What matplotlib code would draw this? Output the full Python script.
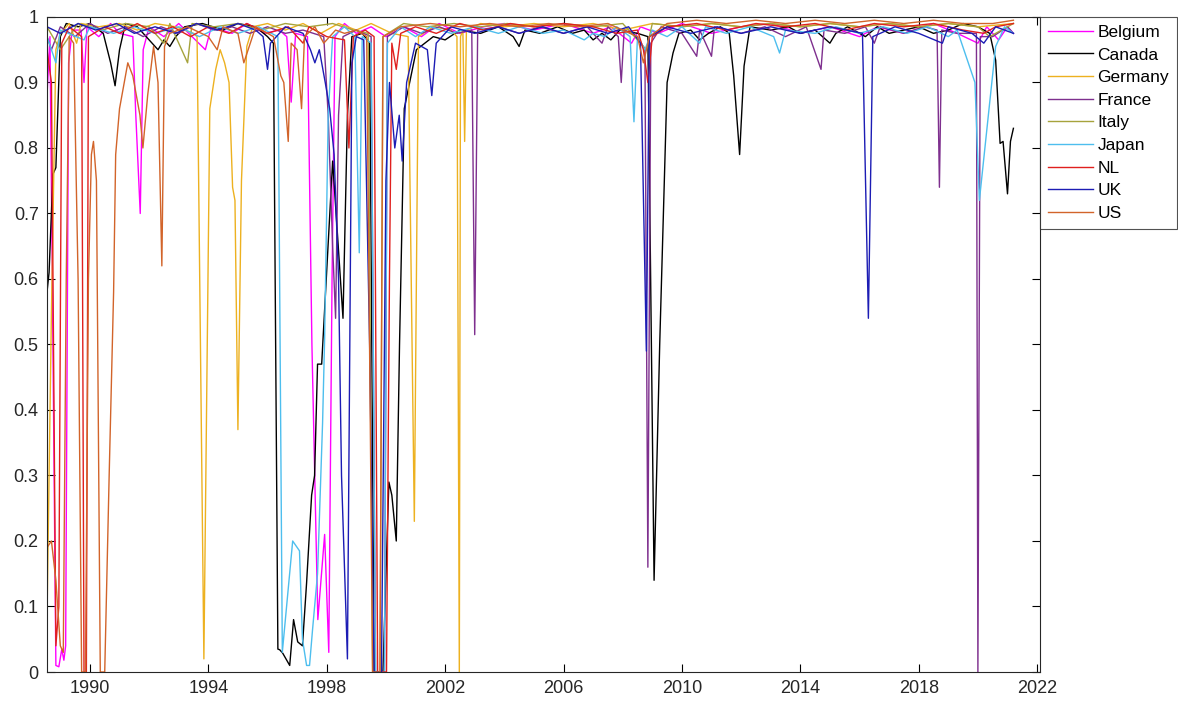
import numpy as np
import matplotlib.pyplot as plt
from matplotlib.ticker import FuncFormatter

plt.rcParams['font.family'] = ['Liberation Sans', 'DejaVu Sans']

countries = ['Belgium', 'Canada', 'Germany', 'France', 'Italy', 'Japan', 'NL', 'UK', 'US']
colors = ['#FF00FF', '#000000', '#EDB120', '#7E2F8E', '#A6A33C', '#4DBEEE', '#E0201E', '#1C1CB4', '#D2642A']

# (decimal year, value) breakpoints for each country
belgium_t = [1988.55, 1988.65, 1988.75, 1988.85, 1988.95, 1989.05, 1989.12, 1989.18, 1989.28, 1989.4,
             1989.7, 1989.8, 1989.9, 1990.3, 1990.7, 1991.0, 1991.45, 1991.55, 1991.7, 1991.8,
             1992.0, 1992.5, 1993.0, 1993.9, 1994.1, 1994.8, 1995.3, 1995.9, 1996.4, 1996.65,
             1996.8, 1996.95, 1997.35, 1997.5, 1997.7, 1997.93, 1998.07, 1998.18, 1998.28, 1998.6,
             1999.0, 1999.5, 2000.0, 2000.6, 2001.2, 2001.8, 2002.5, 2003.3, 2004.0, 2005.0,
             2006.0, 2007.0, 2007.6, 2008.3, 2008.6, 2009.2, 2010.0, 2011.0, 2012.0, 2013.0,
             2014.0, 2015.0, 2016.0, 2016.6, 2017.5, 2018.5, 2019.3, 2020.0, 2020.3, 2020.7,
             2021.0, 2021.2]
belgium_v = [0.88, 0.97, 0.5, 0.01, 0.008, 0.035, 0.018, 0.04, 0.93, 0.98,
             0.98, 0.90, 0.985, 0.97, 0.99, 0.975, 0.97, 0.85, 0.70, 0.95,
             0.985, 0.97, 0.99, 0.95, 0.985, 0.975, 0.99, 0.975, 0.98, 0.97,
             0.87, 0.975, 0.97, 0.5, 0.08, 0.21, 0.03, 0.6, 0.97, 0.99,
             0.975, 0.985, 0.97, 0.985, 0.97, 0.99, 0.975, 0.985, 0.99, 0.98,
             0.99, 0.975, 0.985, 0.96, 0.985, 0.975, 0.99, 0.975, 0.985, 0.99,
             0.975, 0.985, 0.97, 0.985, 0.975, 0.99, 0.975, 0.96, 0.985, 0.965,
             0.985, 0.975]

canada_t = [1988.55, 1988.62, 1988.75, 1988.85, 1989.0, 1989.2, 1989.6, 1990.0, 1990.45, 1990.7,
            1990.85, 1991.0, 1991.2, 1991.6, 1991.9, 1992.3, 1992.5, 1992.7, 1992.9, 1993.2,
            1993.8, 1994.5, 1995.0, 1995.6, 1996.0, 1996.2, 1996.35, 1996.41, 1996.51, 1996.75,
            1996.88, 1997.02, 1997.18, 1997.32, 1997.49, 1997.59, 1997.69, 1997.83, 1998.2, 1998.55,
            1998.7, 1998.85, 1999.2, 1999.45, 1999.6, 1999.9, 2000.1, 2000.2, 2000.35, 2000.46,
            2000.62, 2001.03, 2001.6, 2002.0, 2002.5, 2003.2, 2003.8, 2004.3, 2004.5, 2004.7,
            2005.2, 2005.8, 2006.3, 2006.7, 2007.0, 2007.3, 2007.6, 2007.9, 2008.5, 2008.85,
            2009.06, 2009.25, 2009.5, 2009.7, 2009.9, 2010.3, 2010.6, 2010.9, 2011.3, 2011.6,
            2011.75, 2011.95, 2012.1, 2012.3, 2013.0, 2013.6, 2014.0, 2014.5, 2015.0, 2015.2,
            2015.6, 2016.2, 2016.6, 2017.0, 2017.5, 2018.0, 2018.5, 2019.0, 2019.5, 2020.0,
            2020.4, 2020.6, 2020.75, 2020.85, 2021.0, 2021.1, 2021.2]
canada_v = [0.58, 0.61, 0.76, 0.77, 0.97, 0.99, 0.985, 0.99, 0.975, 0.93,
            0.895, 0.95, 0.99, 0.985, 0.97, 0.95, 0.965, 0.955, 0.97, 0.985,
            0.99, 0.98, 0.99, 0.985, 0.97, 0.96, 0.035, 0.034, 0.029, 0.01,
            0.08, 0.046, 0.04, 0.136, 0.27, 0.30, 0.47, 0.47, 0.78, 0.54,
            0.85, 0.97, 0.975, 0.96, 0.0, 0.0, 0.29, 0.27, 0.20, 0.5,
            0.86, 0.95, 0.97, 0.965, 0.98, 0.975, 0.985, 0.97, 0.955, 0.98,
            0.975, 0.985, 0.975, 0.98, 0.965, 0.975, 0.965, 0.98, 0.975, 0.97,
            0.14, 0.50, 0.90, 0.945, 0.975, 0.98, 0.965, 0.975, 0.985, 0.975,
            0.91, 0.79, 0.925, 0.985, 0.98, 0.985, 0.975, 0.98, 0.96, 0.975,
            0.985, 0.97, 0.985, 0.975, 0.98, 0.985, 0.975, 0.98, 0.99, 0.985,
            0.975, 0.934, 0.807, 0.81, 0.73, 0.81, 0.83]

germany_t = [1988.55, 1988.7, 1988.85, 1989.0, 1989.3, 1989.55, 1989.7, 1990.3, 1991.0, 1991.6,
             1992.2, 1992.9, 1993.5, 1993.62, 1993.85, 1994.05, 1994.25, 1994.4, 1994.55, 1994.7,
             1994.82, 1994.9, 1995.0, 1995.12, 1995.3, 1995.5, 1996.0, 1996.6, 1997.2, 1997.8,
             1998.4, 1999.0, 1999.5, 2000.2, 2000.75, 2000.96, 2001.1, 2001.6, 2002.2, 2002.4,
             2002.48, 2002.52, 2002.6, 2002.66, 2002.72, 2003.2, 2004.0, 2005.0, 2006.0, 2007.0,
             2008.0, 2009.0, 2010.0, 2011.0, 2012.0, 2013.0, 2014.0, 2015.0, 2016.0, 2017.0,
             2018.0, 2019.0, 2020.0, 2021.2]
germany_v = [0.08, 0.55, 0.95, 0.975, 0.99, 0.96, 0.99, 0.985, 0.99, 0.98,
             0.99, 0.985, 0.975, 0.97, 0.02, 0.86, 0.92, 0.95, 0.93, 0.90,
             0.74, 0.72, 0.37, 0.75, 0.955, 0.985, 0.99, 0.98, 0.99, 0.975,
             0.99, 0.98, 0.99, 0.975, 0.97, 0.23, 0.97, 0.985, 0.98, 0.97,
             0.0, 0.97, 0.98, 0.81, 0.98, 0.99, 0.985, 0.99, 0.985, 0.99,
             0.98, 0.99, 0.985, 0.99, 0.985, 0.99, 0.985, 0.99, 0.985, 0.99,
             0.985, 0.99, 0.985, 0.99]

france_t = [1988.55, 1988.7, 1989.0, 1989.5, 1990.0, 1990.6, 1991.2, 1991.8, 1992.4, 1993.0,
            1993.6, 1994.2, 1994.8, 1995.4, 1996.0, 1996.6, 1997.2, 1997.9, 1998.05, 1998.2,
            1998.3, 1998.4, 1998.55, 1999.0, 1999.5, 1999.65, 1999.95, 2000.05, 2000.6, 2001.2,
            2001.8, 2002.4, 2002.9, 2003.0, 2003.1, 2003.8, 2004.5, 2005.2, 2006.0, 2006.8,
            2007.3, 2007.5, 2007.85, 2007.95, 2008.05, 2008.5, 2008.75, 2008.85, 2008.95, 2009.3,
            2010.0, 2010.5, 2010.6, 2011.0, 2011.1, 2012.0, 2012.8, 2013.5, 2014.2, 2014.7,
            2014.8, 2015.5, 2016.2, 2016.5, 2016.7, 2017.5, 2018.2, 2018.62, 2018.7, 2018.78,
            2019.3, 2019.95, 2020.0, 2020.08, 2020.5, 2021.0, 2021.2]
france_v = [0.97, 0.95, 0.985, 0.97, 0.99, 0.975, 0.985, 0.97, 0.985, 0.975,
            0.99, 0.98, 0.985, 0.975, 0.985, 0.975, 0.98, 0.97, 0.85, 0.65,
            0.54, 0.85, 0.97, 0.98, 0.97, 0.0, 0.0, 0.97, 0.985, 0.975,
            0.985, 0.975, 0.98, 0.515, 0.98, 0.985, 0.975, 0.985, 0.975, 0.985,
            0.96, 0.985, 0.97, 0.90, 0.98, 0.97, 0.95, 0.16, 0.96, 0.985,
            0.975, 0.94, 0.98, 0.94, 0.985, 0.975, 0.985, 0.97, 0.985, 0.92,
            0.98, 0.975, 0.985, 0.96, 0.985, 0.975, 0.985, 0.98, 0.74, 0.98,
            0.975, 0.975, 0.0, 0.97, 0.97, 0.985, 0.975]

italy_t = [1988.55, 1989.0, 1989.6, 1990.4, 1991.2, 1992.0, 1992.5, 1992.7, 1993.3, 1993.45,
           1994.2, 1995.0, 1995.8, 1996.6, 1997.4, 1998.2, 1998.9, 1999.4, 1999.55, 1999.8,
           1999.9, 2000.6, 2001.4, 2002.3, 2003.2, 2004.1, 2005.0, 2006.0, 2007.0, 2008.0,
           2008.8, 2009.0, 2010.0, 2011.0, 2012.0, 2013.0, 2014.0, 2015.0, 2016.0, 2017.0,
           2018.0, 2019.0, 2020.0, 2020.4, 2021.2]
italy_v = [0.985, 0.95, 0.99, 0.98, 0.99, 0.985, 0.96, 0.99, 0.93, 0.99,
           0.985, 0.99, 0.98, 0.99, 0.985, 0.99, 0.98, 0.975, 0.0, 0.0,
           0.97, 0.99, 0.985, 0.99, 0.985, 0.99, 0.985, 0.99, 0.985, 0.99,
           0.95, 0.99, 0.985, 0.99, 0.985, 0.99, 0.985, 0.99, 0.985, 0.99,
           0.985, 0.99, 0.985, 0.97, 0.99]

japan_t = [1988.55, 1988.85, 1989.0, 1989.8, 1990.0, 1990.8, 1991.5, 1992.2, 1993.0, 1993.7,
           1994.4, 1995.0, 1995.7, 1996.35, 1996.5, 1996.85, 1997.08, 1997.18, 1997.32, 1997.42,
           1997.52, 1997.69, 1997.86, 1997.93, 1998.05, 1998.2, 1998.6, 1998.95, 1999.1, 1999.2,
           1999.5, 1999.65, 1999.95, 2000.05, 2000.5, 2001.0, 2001.5, 2002.2, 2003.0, 2003.8,
           2004.5, 2005.3, 2006.0, 2006.7, 2007.0, 2007.4, 2007.8, 2008.25, 2008.38, 2008.5,
           2008.75, 2009.0, 2009.5, 2010.0, 2010.6, 2010.8, 2011.5, 2012.3, 2013.1, 2013.3,
           2013.5, 2014.5, 2015.2, 2016.0, 2016.8, 2017.6, 2018.3, 2019.0, 2019.3, 2019.6,
           2019.9, 2020.05, 2020.4, 2020.6, 2020.9, 2021.2]
japan_v = [0.97, 0.93, 0.98, 0.965, 0.985, 0.975, 0.985, 0.975, 0.985, 0.97,
           0.985, 0.975, 0.985, 0.97, 0.03, 0.20, 0.185, 0.05, 0.01, 0.01,
           0.064, 0.15, 0.38, 0.51, 0.85, 0.97, 0.985, 0.97, 0.64, 0.97,
           0.96, 0.0, 0.0, 0.96, 0.985, 0.97, 0.985, 0.975, 0.985, 0.975,
           0.985, 0.975, 0.98, 0.965, 0.975, 0.97, 0.985, 0.97, 0.84, 0.97,
           0.95, 0.98, 0.97, 0.985, 0.96, 0.985, 0.975, 0.985, 0.97, 0.945,
           0.98, 0.975, 0.985, 0.975, 0.985, 0.975, 0.985, 0.97, 0.98, 0.94,
           0.90, 0.72, 0.87, 0.955, 0.985, 0.975]

nl_t = [1988.55, 1988.7, 1988.85, 1988.95, 1989.05, 1989.3, 1989.72, 1989.8, 1989.88, 1989.95,
        1990.5, 1991.0, 1991.6, 1992.2, 1992.8, 1993.4, 1994.0, 1994.7, 1995.3, 1996.0,
        1996.7, 1997.2, 1997.4, 1998.0, 1998.6, 1998.75, 1998.9, 1999.3, 1999.6, 1999.72,
        2000.02, 2000.12, 2000.2, 2000.35, 2000.5, 2001.0, 2001.7, 2002.5, 2003.3, 2004.2,
        2005.0, 2006.0, 2007.0, 2007.8, 2008.5, 2008.7, 2008.85, 2009.0, 2009.5, 2010.5,
        2011.5, 2012.5, 2013.5, 2014.5, 2015.5, 2016.5, 2017.5, 2018.5, 2019.5, 2020.2,
        2020.6, 2021.2]
nl_v = [0.95, 0.90, 0.04, 0.1, 0.96, 0.985, 0.97, 0.0, 0.0, 0.97,
        0.985, 0.975, 0.99, 0.975, 0.985, 0.97, 0.985, 0.975, 0.99, 0.975,
        0.985, 0.96, 0.985, 0.97, 0.965, 0.80, 0.97, 0.98, 0.97, 0.0,
        0.0, 0.6, 0.96, 0.92, 0.975, 0.985, 0.975, 0.99, 0.98, 0.99,
        0.985, 0.99, 0.985, 0.975, 0.98, 0.95, 0.90, 0.97, 0.985, 0.99,
        0.98, 0.99, 0.985, 0.99, 0.98, 0.99, 0.985, 0.99, 0.98, 0.975,
        0.985, 0.99]

uk_t = [1988.55, 1989.0, 1989.6, 1990.2, 1990.9, 1991.5, 1992.2, 1992.9, 1993.6, 1994.3,
        1995.0, 1995.6, 1995.85, 1996.0, 1996.1, 1996.6, 1997.2, 1997.45, 1997.6, 1997.75,
        1997.95, 1998.1, 1998.25, 1998.4, 1998.5, 1998.7, 1998.78, 1998.85, 1999.0, 1999.25,
        1999.45, 1999.6, 1999.85, 2000.0, 2000.12, 2000.3, 2000.45, 2000.55, 2000.7, 2001.0,
        2001.4, 2001.55, 2001.7, 2002.2, 2003.0, 2003.8, 2004.5, 2005.3, 2006.0, 2006.8,
        2007.5, 2008.2, 2008.6, 2008.8, 2008.9, 2009.5, 2010.3, 2011.2, 2012.0, 2013.0,
        2014.0, 2015.0, 2016.1, 2016.3, 2016.45, 2017.2, 2018.0, 2018.8, 2019.0, 2019.8,
        2020.2, 2020.6, 2021.2]
uk_v = [0.985, 0.975, 0.99, 0.98, 0.99, 0.975, 0.985, 0.975, 0.99, 0.98,
        0.99, 0.98, 0.97, 0.92, 0.96, 0.985, 0.975, 0.95, 0.93, 0.95,
        0.90, 0.86, 0.79, 0.60, 0.30, 0.02, 0.5, 0.93, 0.97, 0.965,
        0.5, 0.0, 0.0, 0.75, 0.90, 0.80, 0.85, 0.78, 0.90, 0.96,
        0.95, 0.88, 0.96, 0.985, 0.975, 0.985, 0.975, 0.985, 0.975, 0.985,
        0.975, 0.985, 0.96, 0.49, 0.97, 0.985, 0.975, 0.985, 0.975, 0.985,
        0.975, 0.985, 0.975, 0.54, 0.97, 0.985, 0.975, 0.96, 0.985, 0.975,
        0.96, 0.985, 0.975]

us_t = [1988.55, 1988.7, 1988.85, 1989.0, 1989.1, 1989.2, 1989.3, 1989.45, 1989.6, 1989.72,
        1989.85, 1989.95, 1990.05, 1990.12, 1990.22, 1990.35, 1990.5, 1990.65, 1990.8, 1990.87,
        1991.0, 1991.28, 1991.45, 1991.69, 1991.79, 1991.95, 1992.15, 1992.3, 1992.43, 1992.52,
        1992.7, 1993.3, 1994.0, 1994.3, 1994.5, 1995.0, 1995.2, 1995.6, 1996.2, 1996.45,
        1996.55, 1996.7, 1996.8, 1997.0, 1997.15, 1997.25, 1997.6, 1997.9, 1998.3, 1998.6,
        1999.0, 1999.35, 1999.55, 1999.8, 1999.9, 2000.5, 2001.5, 2002.5, 2003.5, 2004.5,
        2005.5, 2006.5, 2007.5, 2008.5, 2008.7, 2008.9, 2009.5, 2010.5, 2011.5, 2012.5,
        2013.5, 2014.5, 2015.5, 2016.5, 2017.5, 2018.5, 2019.5, 2020.5, 2021.2]
us_v = [0.19, 0.20, 0.14, 0.04, 0.03, 0.6, 0.97, 0.96, 0.6, 0.0,
        0.0, 0.6, 0.79, 0.81, 0.75, 0.0, 0.0, 0.3, 0.58, 0.79,
        0.86, 0.93, 0.91, 0.85, 0.80, 0.88, 0.955, 0.90, 0.62, 0.955,
        0.975, 0.985, 0.97, 0.95, 0.985, 0.975, 0.93, 0.985, 0.97, 0.91,
        0.90, 0.81, 0.96, 0.95, 0.86, 0.97, 0.985, 0.96, 0.98, 0.975,
        0.98, 0.97, 0.0, 0.0, 0.97, 0.985, 0.99, 0.985, 0.99, 0.985,
        0.99, 0.985, 0.99, 0.97, 0.93, 0.97, 0.99, 0.995, 0.99, 0.995,
        0.99, 0.995, 0.99, 0.995, 0.99, 0.995, 0.99, 0.99, 0.995]

series = [
    (belgium_t, belgium_v), (canada_t, canada_v), (germany_t, germany_v),
    (france_t, france_v), (italy_t, italy_v), (japan_t, japan_v),
    (nl_t, nl_v), (uk_t, uk_v), (us_t, us_v),
]

fig = plt.figure(figsize=(11.78, 7.07), dpi=100)
ax = fig.add_axes([0.0399, 0.0495, 0.8430, 0.9265])

for (t, v), name, c in zip(series, countries, colors):
    ax.plot(t, v, color=c, lw=1.0, label=name)

ax.set_xlim(1988.55, 2022.1)
ax.set_ylim(0, 1)
ax.set_xticks(np.arange(1990, 2023, 4))
ax.set_yticks(np.arange(0, 1.01, 0.1))
ax.yaxis.set_major_formatter(FuncFormatter(lambda y, _: f'{y:g}'))
ax.tick_params(direction='in', length=6, width=0.8, top=True, right=True,
               labelsize=13, labelcolor='#262626', pad=6)
for s in ax.spines.values():
    s.set_linewidth(0.8)
    s.set_color('#262626')

leg = ax.legend(loc='upper left', bbox_to_anchor=(1.0, 1.0), borderaxespad=0,
                fontsize=12.5, handlelength=2.6, handletextpad=0.25, labelspacing=0.43,
                fancybox=False, frameon=True, borderpad=0.45)
leg.get_frame().set_edgecolor('#262626')
leg.get_frame().set_linewidth(0.8)

fig.savefig('out.png', dpi=100, facecolor='white')
